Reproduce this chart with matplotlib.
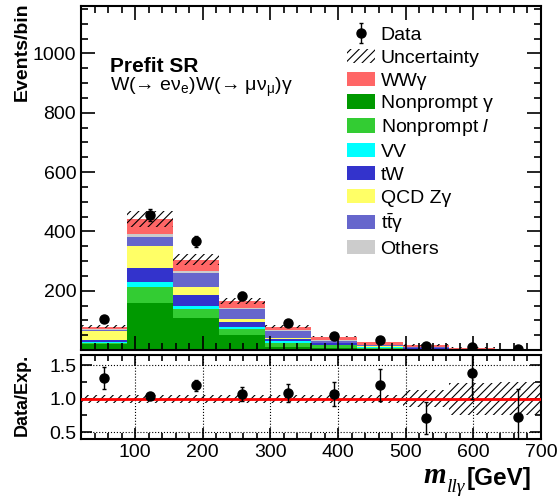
import numpy as np
import matplotlib
matplotlib.use("Agg")
import matplotlib.pyplot as plt
import matplotlib.patches as mpatches
from matplotlib.ticker import MultipleLocator, FixedLocator

plt.rcParams['font.family'] = ['Liberation Sans', 'DejaVu Sans']
plt.rcParams['mathtext.fontset'] = 'custom'
plt.rcParams['mathtext.rm'] = 'Liberation Sans'
plt.rcParams['mathtext.it'] = 'Liberation Sans:italic'
plt.rcParams['mathtext.bf'] = 'Liberation Sans:bold'
plt.rcParams['hatch.linewidth'] = 0.8

# ---------------- data ----------------
edges = [20, 88, 156, 224, 292, 360, 428, 496, 564, 632, 700]
centers = [54, 122, 190, 258, 326, 394, 462, 530, 598, 666]

nonprompt_gamma = [20, 160, 108, 50, 11, 8, 4, 2, 1.0, 0.5]
nonprompt_l     = [3, 53, 30, 20, 14, 8, 4, 2, 1.0, 0.5]
vv              = [3, 15, 11, 6, 4, 2, 1, 0.5, 0.3, 0.2]
tw              = [9, 47, 36, 17, 8, 4, 2, 1, 0.5, 0.3]
qcd_zgamma      = [28, 75, 28, 13, 5, 2, 1, 0.5, 0.2, 0.1]
ttgamma         = [5, 32, 47, 32, 23, 7, 5, 3, 1.0, 0.6]
others          = [3, 9, 5, 5, 3, 2, 1, 0.5, 0.5, 0.3]
wwgamma         = [8, 51, 40, 22, 11, 12, 9, 7, 2.5, 1.5]

data     = [103, 456, 367, 183, 90, 48, 33, 12, 10, 3]
data_err = [10, 21, 19, 13.5, 9.5, 7, 5.7, 3.5, 3.2, 1.7]

unc_rel = [0.06, 0.06, 0.06, 0.06, 0.06, 0.06, 0.06, 0.125, 0.24, 0.25]

ratio     = [1.31, 1.04, 1.20, 1.07, 1.085, 1.07, 1.20, 0.715, 1.38, 0.725]
ratio_err = [0.16, 0.03, 0.08, 0.10, 0.14, 0.18, 0.24, 0.24, 0.38, 0.42]

stack_names = ['Nonprompt γ', r'Nonprompt $\mathit{l}$', 'VV', 'tW', 'QCD Zγ',
               r't$\bar{\mathrm{t}}$γ', 'Others', 'WWγ']
stack_vals = [nonprompt_gamma, nonprompt_l, vv, tw, qcd_zgamma, ttgamma, others, wwgamma]
stack_colors = ['#009900', '#33CC33', '#00FFFF', '#3333CC', '#FFFF66',
                '#6666CC', '#CCCCCC', '#FF6666']

legend_order = ['WWγ', 'Nonprompt γ', r'Nonprompt $\mathit{l}$', 'VV', 'tW', 'QCD Zγ',
                r't$\bar{\mathrm{t}}$γ', 'Others']

W, H = 560, 499
fig = plt.figure(figsize=(W / 100, H / 100), dpi=100)
ax = fig.add_axes([81 / W, 1 - 350 / H, 460 / W, 344 / H])
rax = fig.add_axes([81 / W, 1 - 439 / H, 460 / W, 84 / H])

edges_a = np.array(edges, dtype=float)
base = np.zeros(len(centers))
handles = {}
for name, vals, col in zip(stack_names, stack_vals, stack_colors):
    top = base + np.array(vals, dtype=float)
    ax.stairs(top, edges_a, baseline=base, fill=True, color=col, linewidth=0)
    handles[name] = mpatches.Patch(facecolor=col, edgecolor='none')
    base = top
total = base
unc = total * np.array(unc_rel)
ax.stairs(total + unc, edges_a, baseline=total - unc, fill=True, facecolor='none',
          edgecolor='black', hatch='////', linewidth=0)

dh = ax.errorbar(centers, data, yerr=data_err, fmt='o', color='black', markersize=6.5,
                 elinewidth=1.0, capsize=1.5, zorder=5)

unc_handle = mpatches.Patch(facecolor='none', edgecolor='black', hatch='////', linewidth=0)
leg_handles = [dh, unc_handle] + [handles[n] for n in legend_order]
leg_labels = ['Data', 'Uncertainty'] + legend_order
leg = ax.legend(leg_handles, leg_labels, loc='upper left', bbox_to_anchor=(0.562, 0.964),
                frameon=False, fontsize=14, handlelength=1.45, handleheight=0.75,
                labelspacing=0.25, handletextpad=0.26, borderaxespad=0)

ax.set_xlim(20, 700)
ax.set_ylim(0, 1160)
ax.yaxis.set_major_locator(FixedLocator([200, 400, 600, 800, 1000]))
ax.yaxis.set_minor_locator(MultipleLocator(50))
ax.xaxis.set_major_locator(MultipleLocator(100))
ax.xaxis.set_minor_locator(MultipleLocator(20))
ax.tick_params(which='both', direction='in', top=True, right=True, labelbottom=False,
               labelsize=14, width=1.2)
ax.tick_params(which='major', length=10)
ax.tick_params(which='minor', length=5)
for s in ax.spines.values():
    s.set_linewidth(1.5)

ax.text(0.063, 0.808, 'Prefit SR', transform=ax.transAxes, fontsize=15, fontweight='bold',
        va='baseline')
ax.text(0.063, 0.752, r'W(→ eν$_{\mathregular{e}}$)W(→ μν$_{\mathregular{μ}}$)γ',
        transform=ax.transAxes, fontsize=14, va='baseline')

# ratio panel
rax.stairs(1 + np.array(unc_rel), edges_a, baseline=1 - np.array(unc_rel), fill=True,
           facecolor='none', edgecolor='black', hatch='////', linewidth=0)
rax.axhline(1.0, color='red', linewidth=2, zorder=3)
rax.errorbar(centers, ratio, yerr=ratio_err, fmt='o', color='black', markersize=6.5,
             elinewidth=1.0, capsize=1.5, zorder=5)
rax.set_xlim(20, 700)
rax.set_ylim(0.4, 1.65)
rax.yaxis.set_major_locator(FixedLocator([0.5, 1.0, 1.5]))
rax.yaxis.set_minor_locator(MultipleLocator(0.25))
rax.xaxis.set_major_locator(MultipleLocator(100))
rax.xaxis.set_minor_locator(MultipleLocator(20))
rax.set_yticklabels(['0.5', '1.0', '1.5'])
rax.tick_params(which='both', direction='in', top=True, right=True, labelsize=14, width=1.2)
rax.tick_params(which='major', length=8)
rax.tick_params(which='minor', length=4)
rax.grid(True, which='major', linestyle=':', color='black', linewidth=0.8)
for s in rax.spines.values():
    s.set_linewidth(1.5)

fig.text(22 / W, 1 - 52 / H, 'Events/bin', rotation=90, fontsize=14, fontweight='bold',
         ha='center', va='center')
fig.text(22 / W, 1 - 395 / H, 'Data/Exp.', rotation=90, fontsize=13, fontweight='bold',
         ha='center', va='center')

fig.text(423 / W, 1 - 483 / H, 'm', fontsize=21, fontweight='bold', fontstyle='italic',
         family='Liberation Serif', ha='left', va='baseline')
fig.text(447 / W, 1 - 492 / H, 'llγ', fontsize=14, fontstyle='italic',
         family='Liberation Serif', ha='left', va='baseline')
fig.text(467 / W, 1 - 485 / H, '[GeV]', fontsize=17.5, fontweight='bold',
         ha='left', va='baseline')

fig.savefig('out.png', dpi=100)
